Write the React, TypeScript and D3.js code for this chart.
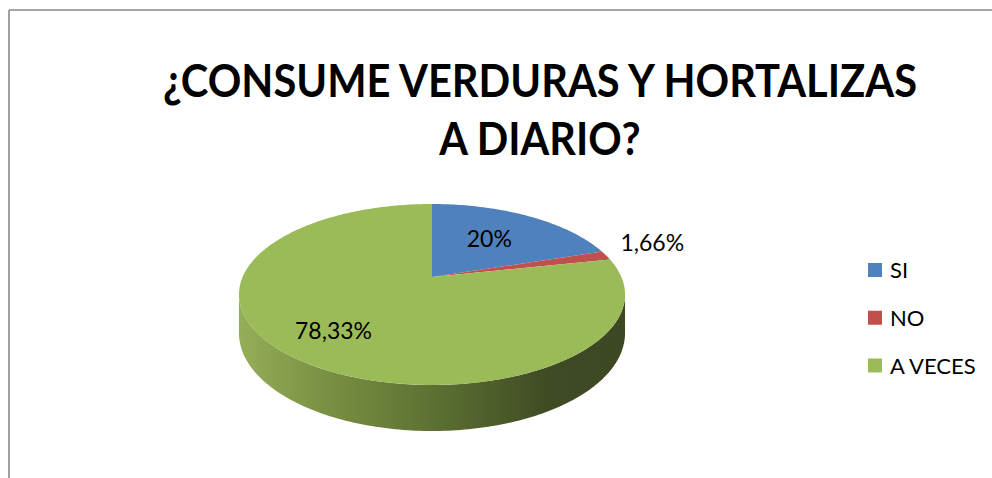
import React from "react";
import * as d3 from "d3";

const categories = ["SI", "NO", "A VECES"];
const values = [20, 1.66, 78.33];
const valueLabels = ["20%", "1,66%", "78,33%"];
const colors = ["#4f81bd", "#c0504d", "#9bbb59"];
const titleLines = ["¿CONSUME VERDURAS Y HORTALIZAS", "A DIARIO?"];

const W = 992;
const H = 478;
// pie projection parameters (perspective tilted disc)
const CX = 432;
const CY = 277;
const A = 189.4;
const B = 87.1;
const K = 0.1934;
const DEPTH = 37.1;

function proj(theta: number, r = 1): [number, number] {
  const u = r * Math.sin(theta);
  const v = r * Math.cos(theta);
  const den = 1 + K * v;
  return [CX + (A * u) / den, CY - (B * v) / den];
}
function projBottom(theta: number): [number, number] {
  const v = Math.cos(theta);
  const den = 1 + K * v;
  const [x, y] = proj(theta);
  return [x, y + DEPTH / den];
}
function arcPoints(t0: number, t1: number, f: (t: number) => [number, number]) {
  const n = Math.max(2, Math.ceil(((t1 - t0) * 180) / Math.PI));
  return d3.range(n + 1).map((i) => f(t0 + ((t1 - t0) * i) / n));
}

export default function App() {
  const pie = d3.pie<number>().sort(null).startAngle(0).endAngle(2 * Math.PI);
  const arcs = pie(values);
  const line = d3.line();
  const visLo = Math.acos(-K);
  const visHi = 2 * Math.PI - visLo;

  const sides = arcs
    .map((a, i) => {
      const t0 = Math.max(a.startAngle, visLo);
      const t1 = Math.min(a.endAngle, visHi);
      if (t1 <= t0) return null;
      const top = arcPoints(t0, t1, (t) => proj(t));
      const bot = arcPoints(t0, t1, projBottom).reverse();
      return { i, d: line([...top, ...bot])! + "Z" };
    })
    .filter(Boolean) as { i: number; d: string }[];

  const tops = arcs.map((a, i) => {
    const pts = [[CX, CY] as [number, number], ...arcPoints(a.startAngle, a.endAngle, (t) => proj(t))];
    return { i, d: line(pts)! + "Z" };
  });

  const total = d3.sum(values);
  const labels = arcs.map((a, i) => {
    const mid = (a.startAngle + a.endAngle) / 2;
    const frac = values[i] / total;
    if (frac < 0.05) {
      const [x, y] = proj(mid, 1.08);
      return { i, x: x + 1, y: y - 3, anchor: "start" };
    }
    const [x, y] = proj(mid, 0.5 + 0.3 * frac);
    return { i, x, y: y + 6, anchor: "middle" };
  });

  const legendY = d3.scalePoint<string>().domain(categories).range([270, 365.5]);

  return (
    <svg width={W} height={H} style={{ position: "absolute", left: 0, top: 0, background: "#fff" }}>
      <defs>
        <linearGradient id="sideGrad" gradientUnits="userSpaceOnUse" x1={CX - 193} x2={CX + 193} y1={0} y2={0}>
          <stop offset="0" stopColor="#94ae58" />
          <stop offset="0.25" stopColor="#778d41" />
          <stop offset="0.55" stopColor="#586b30" />
          <stop offset="0.8" stopColor="#3f4b24" />
          <stop offset="1" stopColor="#3d4822" />
        </linearGradient>
      </defs>
      <rect x={0} y={0} width={W} height={H} fill="#fff" />
      <line x1={9} y1={10} x2={W} y2={10} stroke="#888" strokeWidth={1.6} />
      <line x1={9} y1={10} x2={9} y2={H} stroke="#888" strokeWidth={1.6} />

      <g fontFamily="Lato, 'Open Sans', sans-serif" fontWeight="bold" fontSize={46} textAnchor="middle" fill="#000">
        <text transform="translate(540,97) scale(0.905,1)">{titleLines[0]}</text>
        <text transform="translate(540,155) scale(0.9,1)">{titleLines[1]}</text>
      </g>

      {sides.map((s) => (
        <path key={"s" + s.i} d={s.d} fill="url(#sideGrad)" />
      ))}
      {tops.map((t) => (
        <path key={"t" + t.i} d={t.d} fill={colors[t.i]} />
      ))}

      <g fontFamily="Lato, 'Open Sans', sans-serif" fontSize={23} fill="#000">
        {labels.map((l) => (
          <text key={"l" + l.i} x={l.x} y={l.y} textAnchor={l.anchor as any}>
            {valueLabels[l.i]}
          </text>
        ))}
      </g>

      <g fontFamily="Lato, 'Open Sans', sans-serif" fontSize={22} fill="#000">
        {categories.map((c, i) => (
          <g key={c} transform={`translate(868,${legendY(c)})`}>
            <rect x={0} y={-7} width={14} height={14} fill={colors[i]} />
            <text x={22} y={8}>{c}</text>
          </g>
        ))}
      </g>
    </svg>
  );
}
